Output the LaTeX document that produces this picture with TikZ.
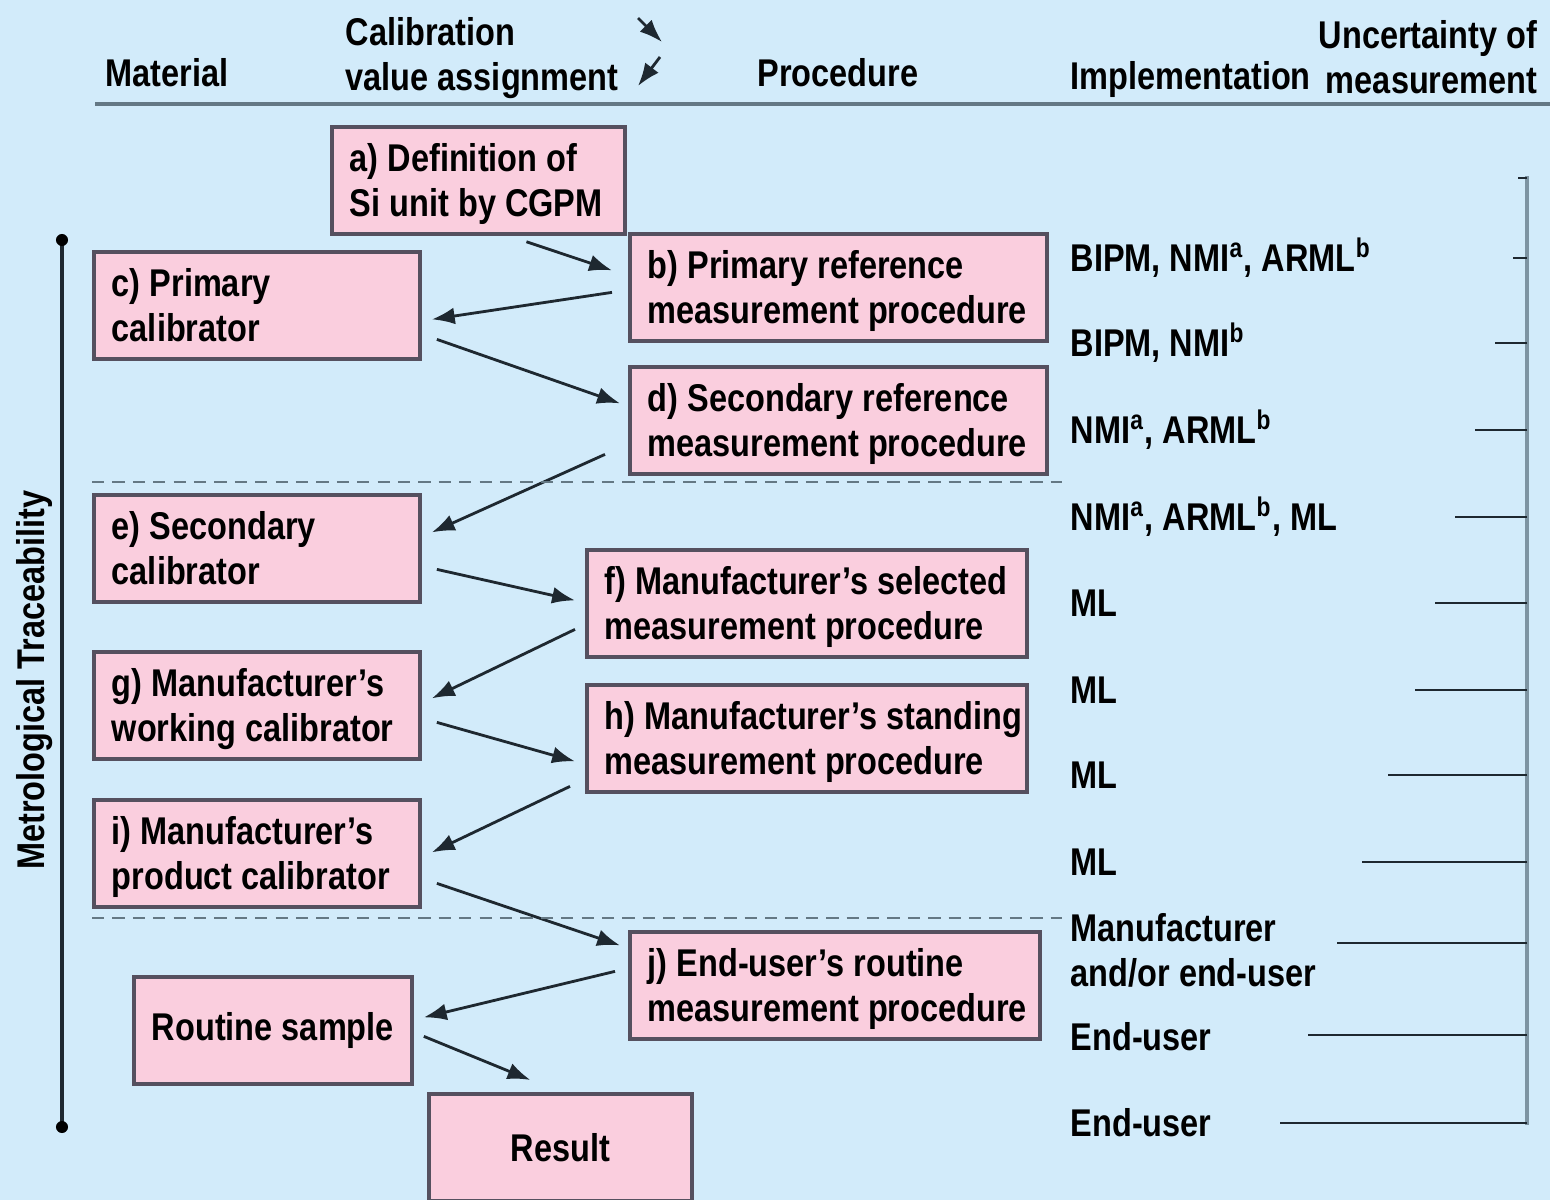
\documentclass[tikz,border=0pt]{standalone}
\usepackage{fontspec}
\setmainfont{Liberation Sans}[FakeStretch=0.84]
\usepackage{tikz}
\usetikzlibrary{calc}
\usetikzlibrary{arrows.meta}
\definecolor{bgblue}{RGB}{210,235,250}
\definecolor{boxpink}{RGB}{250,206,222}
\definecolor{boxline}{RGB}{85,80,95}
\definecolor{ruleline}{RGB}{100,120,132}
\definecolor{barline}{RGB}{125,148,162}
\definecolor{inkdark}{RGB}{30,40,48}
\tikzset{
  calbox/.style={draw=boxline, fill=boxpink, line width=1.05pt, anchor=north west, inner xsep=0.18cm, inner ysep=0pt, minimum height=1.07cm},
  flow/.style={-{Latex[length=6.5pt,width=4.8pt]}, line width=0.8pt, draw=inkdark},
  tickline/.style={line width=0.8pt, draw=inkdark},
  implabel/.style={anchor=west, inner sep=0pt, align=left},
  headlabel/.style={inner sep=0pt}
}
\newcommand{\calnode}[4]{\node[calbox, text height=18.3pt, text depth=10pt] (#1) at (#2) {\makebox[#3][l]{\begin{tabular}{@{}l@{}}#4\end{tabular}}};}

\begin{document}
\begin{tikzpicture}[x=0.01cm, y=-0.01cm, font=\fontsize{11}{12.8}\selectfont\bfseries]
  \fill[bgblue] (0,0) rectangle (1550,1200);
  \useasboundingbox (0,0) rectangle (1550,1200);

  % column heads
  \node[headlabel, anchor=base west] (hmat) at (105,87) {Material};
  \node[headlabel, anchor=north west, align=left] (hcal) at (345,17) {Calibration\\value assignment};
  \node[headlabel, anchor=base] (hproc) at (838,87) {Procedure};
  \node[headlabel, anchor=base west] (himp) at (1070,90) {Implementation};
  \node[headlabel, anchor=north east, align=right] (hunc) at (1538,20) {Uncertainty of\\measurement};
  \coordinate (kdA) at (638,18);
  \coordinate (kdB) at (662,42);
  \coordinate (kuA) at (660,57);
  \coordinate (kuB) at (638,86);
  \draw[flow] (kdA) -- (kdB);
  \draw[flow] (kuA) -- (kuB);
  \draw[ruleline, line width=1.2pt] (95,104) -- (1550,104);

  % boxes
  \calnode{a}{330,125}{2.57cm}{a) Definition of\\Si unit by CGPM}
  \calnode{b}{628,232}{3.81cm}{b) Primary reference\\measurement procedure}
  \calnode{c}{92,250}{2.90cm}{c) Primary\\calibrator}
  \calnode{d}{628,365}{3.81cm}{d) Secondary reference\\measurement procedure}
  \calnode{e}{92,493}{2.90cm}{e) Secondary\\calibrator}
  \calnode{f}{585,548}{4.04cm}{f) Manufacturer's selected\\measurement procedure}
  \calnode{g}{92,650}{2.90cm}{g) Manufacturer's\\working calibrator}
  \calnode{h}{585,683}{4.04cm}{h) Manufacturer's standing\\measurement procedure}
  \calnode{i}{92,798}{2.90cm}{i) Manufacturer's\\product calibrator}
  \calnode{j}{628,930}{3.74cm}{j) End-user's routine\\measurement procedure}
  \node[calbox, minimum width=2.78cm] (rs) at (132,975) {Routine sample};
  \node[calbox, minimum width=2.63cm] (res) at (427,1092) {Result};

  % flow of values
  \draw[flow] ($(a.south)+(48,6)$) -- ($(b.west)+(-16,-17)$);
  \draw[flow] ($(b.west)+(-16,5)$) -- ($(c.east)+(10,14)$);
  \draw[flow] ($(c.east)+(15,34)$) -- ($(d.west)+(-8,-17)$);
  \draw[flow] ($(d.west)+(-23,34)$) -- ($(e.east)+(10,-16)$);
  \draw[flow] ($(e.east)+(15,21)$) -- ($(f.west)+(-10,-3)$);
  \draw[flow] ($(f.west)+(-10,26)$) -- ($(g.east)+(10,-7)$);
  \draw[flow] ($(g.east)+(15,17)$) -- ($(h.west)+(-10,23)$);
  \draw[flow] ($(h.west)+(-15,48)$) -- ($(i.east)+(10,-1)$);
  \draw[flow] ($(i.east)+(15,30)$) -- ($(j.west)+(-8,-40)$);
  \draw[flow] ($(j.west)+(-13,-14)$) -- ($(rs.east)+(10,-13)$);
  \draw[flow] ($(rs.east)+(10,6)$) -- ($(res.north)+(-30,-12)$);

  % level separators
  \draw[ruleline, dashed, dash pattern=on 3.5pt off 2.3pt, line width=0.6pt] (92,482) -- (1062,482);
  \draw[ruleline, dashed, dash pattern=on 3.5pt off 2.3pt, line width=0.6pt] (92,918) -- (1062,918);

  % traceability axis
  \coordinate (ttop) at (62,240);
  \coordinate (tbot) at (62,1127);
  \draw[inkdark, line width=1pt] (ttop) -- (tbot);
  \fill[black] (ttop) circle (0.06cm);
  \fill[black] (tbot) circle (0.06cm);
  \node[headlabel, rotate=90] (trace) at (35,680) {Metrological Traceability};

  % implementation
  \node[implabel] (imp1) at (1070,258) {BIPM, NMI\textsuperscript{a}, ARML\textsuperscript{b}};
  \node[implabel] (imp2) at (1070,343) {BIPM, NMI\textsuperscript{b}};
  \node[implabel] (imp3) at (1070,430) {NMI\textsuperscript{a}, ARML\textsuperscript{b}};
  \node[implabel] (imp4) at (1070,517) {NMI\textsuperscript{a}, ARML\textsuperscript{b}, ML};
  \node[implabel] (imp5) at (1070,603) {ML};
  \node[implabel] (imp6) at (1070,690) {ML};
  \node[implabel] (imp7) at (1070,775) {ML};
  \node[implabel] (imp8) at (1070,862) {ML};
  \node[implabel] (imp9) at (1070,950) {Manufacturer\\and/or end-user};
  \node[implabel] (imp10) at (1070,1037) {End-user};
  \node[implabel] (imp11) at (1070,1123) {End-user};

  % uncertainty scale
  \draw[barline, line width=1.2pt] (1527,176) -- (1527,1125);
  \foreach \yy/\xx in {178/1518, 258/1513, 343/1495, 430/1475, 517/1455, 603/1435, 690/1415, 775/1388, 862/1362, 943/1337, 1035/1308, 1123/1280}
    \draw[tickline] (1527,\yy) -- (\xx,\yy);
\end{tikzpicture}
\end{document}
